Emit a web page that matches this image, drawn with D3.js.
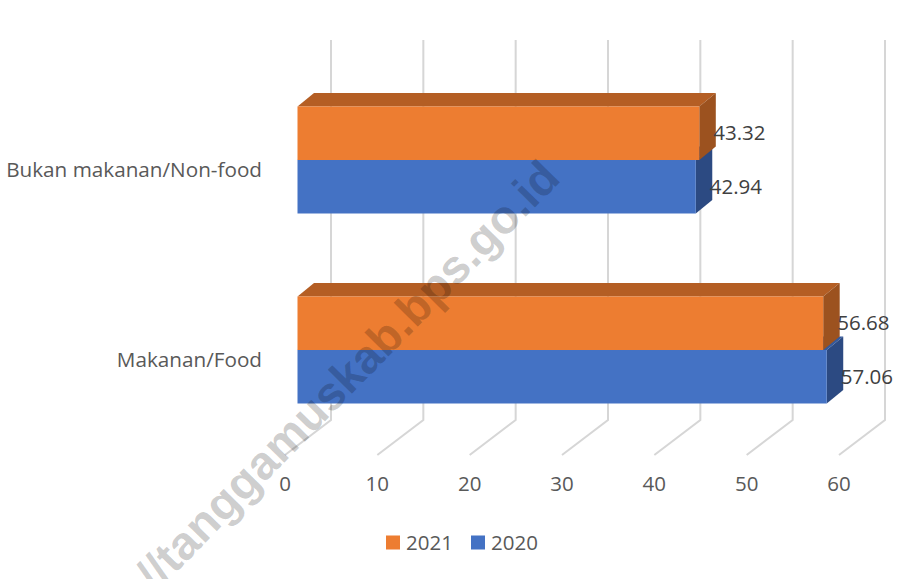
<!DOCTYPE html>
<html>
<head>
<meta charset="utf-8">
<script src="https://cdn.jsdelivr.net/npm/d3@7"></script>
<style>
  body { margin: 0; background: #fff; }
  svg { display: block; font-family: "Open Sans", sans-serif; }
</style>
</head>
<body>
<div id="chart"></div>
<script>
// data
var categories = ["Bukan makanan/Non-food", "Makanan/Food"]
var seriesNames = ["2021", "2020"]
var values2021 = [43.32, 56.68]
var values2020 = [42.94, 57.06]
var tickValues = [0, 10, 20, 30, 40, 50, 60]
var watermark = "https://tanggamuskab.bps.go.id"

// colours: front, top, side
var colors = {
    "2021": ["#ED7D31", "#B45E24", "#9C521F"],
    "2020": ["#4472C4", "#34599C", "#2C4A82"]
}

var width = 902
var height = 579

var svg = d3.select('#chart')
    .append('svg')
    .attr('width', width)
    .attr('height', height)

// back wall value scale, category scale
var x = d3.scaleLinear().domain([0, 60]).range([331, 885])
var y = d3.scaleBand().domain(categories).range([40, 420])
// front face of the bars is a bit closer, so its own scale
var xBar = d3.scaleLinear().domain([0, 60]).range([297.5, 854])

var floor = { dx: -46, dy: 35 }   // back wall -> front edge of floor
var barDepth = { dx: 16.5, dy: -13.5 }  // bar front -> bar back
var barFrontDy = 25
var barH = 53.5

// gridlines on the back wall + floor
var grid = svg.append('g')
grid.selectAll('path')
    .data(tickValues)
    .enter()
    .append('path')
    .attr('d', function (d) {
        return 'M' + x(d) + ',40 L' + x(d) + ',420 L' + (x(d) + floor.dx) + ',' + (420 + floor.dy)
    })
    .style('fill', 'none')
    .style('stroke', '#D6D6D6')
    .style('stroke-width', 2)

// tick labels along the floor front
svg.append('g').selectAll('text')
    .data(tickValues)
    .enter()
    .append('text')
    .attr('x', function (d) { return x(d) + floor.dx })
    .attr('y', 484)
    .attr('dy', '0.35em')
    .attr('text-anchor', 'middle')
    .style('font-size', '20.5px')
    .style('fill', '#595959')
    .text(function (d) { return d })

// category labels
svg.append('g').selectAll('text')
    .data(categories)
    .enter()
    .append('text')
    .attr('x', 262)
    .attr('y', function (d) { return y(d) + y.bandwidth() / 2 + floor.dy })
    .attr('dy', '0.35em')
    .attr('text-anchor', 'end')
    .style('font-size', '20.7px')
    .style('fill', '#595959')
    .text(function (d) { return d })

// bars: blue first, orange on top of it
var bars = []
categories.forEach(function (c, i) {
    var mid = y(c) + y.bandwidth() / 2 + barFrontDy
    bars.push({ cat: c, series: "2020", value: values2020[i], y0: mid, y1: mid + barH })
    bars.push({ cat: c, series: "2021", value: values2021[i], y0: mid - barH, y1: mid })
})

function pts(arr) { return arr.map(function (p) { return p.join(',') }).join(' ') }

var barG = svg.append('g').selectAll('g')
    .data(bars)
    .enter()
    .append('g')

// top face
barG.append('polygon')
    .attr('points', function (d) {
        var x0 = xBar(0), x1 = xBar(d.value)
        return pts([[x0, d.y0], [x1, d.y0], [x1 + barDepth.dx, d.y0 + barDepth.dy], [x0 + barDepth.dx, d.y0 + barDepth.dy]])
    })
    .style('fill', function (d) { return colors[d.series][1] })

// end face
barG.append('polygon')
    .attr('points', function (d) {
        var x1 = xBar(d.value)
        return pts([[x1, d.y0], [x1, d.y1], [x1 + barDepth.dx, d.y1 + barDepth.dy], [x1 + barDepth.dx, d.y0 + barDepth.dy]])
    })
    .style('fill', function (d) { return colors[d.series][2] })

// front face
barG.append('rect')
    .attr('x', xBar(0))
    .attr('y', function (d) { return d.y0 })
    .attr('width', function (d) { return xBar(d.value) - xBar(0) })
    .attr('height', barH)
    .style('fill', function (d) { return colors[d.series][0] })

// value labels
svg.append('g').selectAll('text')
    .data(bars)
    .enter()
    .append('text')
    .attr('x', function (d) { return xBar(d.value) + 14 })
    .attr('y', function (d) { return (d.y0 + d.y1) / 2 })
    .attr('dy', '0.35em')
    .style('font-size', '20.5px')
    .style('fill', '#404040')
    .text(function (d) { return d.value.toFixed(2) })

// legend
var legend = svg.append('g').selectAll('g')
    .data(seriesNames)
    .enter()
    .append('g')
    .attr('transform', function (d, i) { return 'translate(' + (386 + i * 85) + ',535.5)' })
legend.append('rect')
    .attr('width', 14)
    .attr('height', 14)
    .style('fill', function (d) { return colors[d][0] })
legend.append('text')
    .attr('x', 20)
    .attr('y', 7)
    .attr('dy', '0.35em')
    .style('font-size', '20.5px')
    .style('fill', '#595959')
    .text(function (d) { return d })

// watermark over everything
svg.append('text')
    .attr('transform', 'translate(562,180) rotate(-45.5)')
    .attr('text-anchor', 'end')
    .style('font-family', '"Liberation Sans", Arial, sans-serif')
    .style('font-weight', 'bold')
    .style('font-size', '47px')
    .style('fill', '#000')
    .style('fill-opacity', 0.2)
    .text(watermark)
</script>
</body>
</html>
